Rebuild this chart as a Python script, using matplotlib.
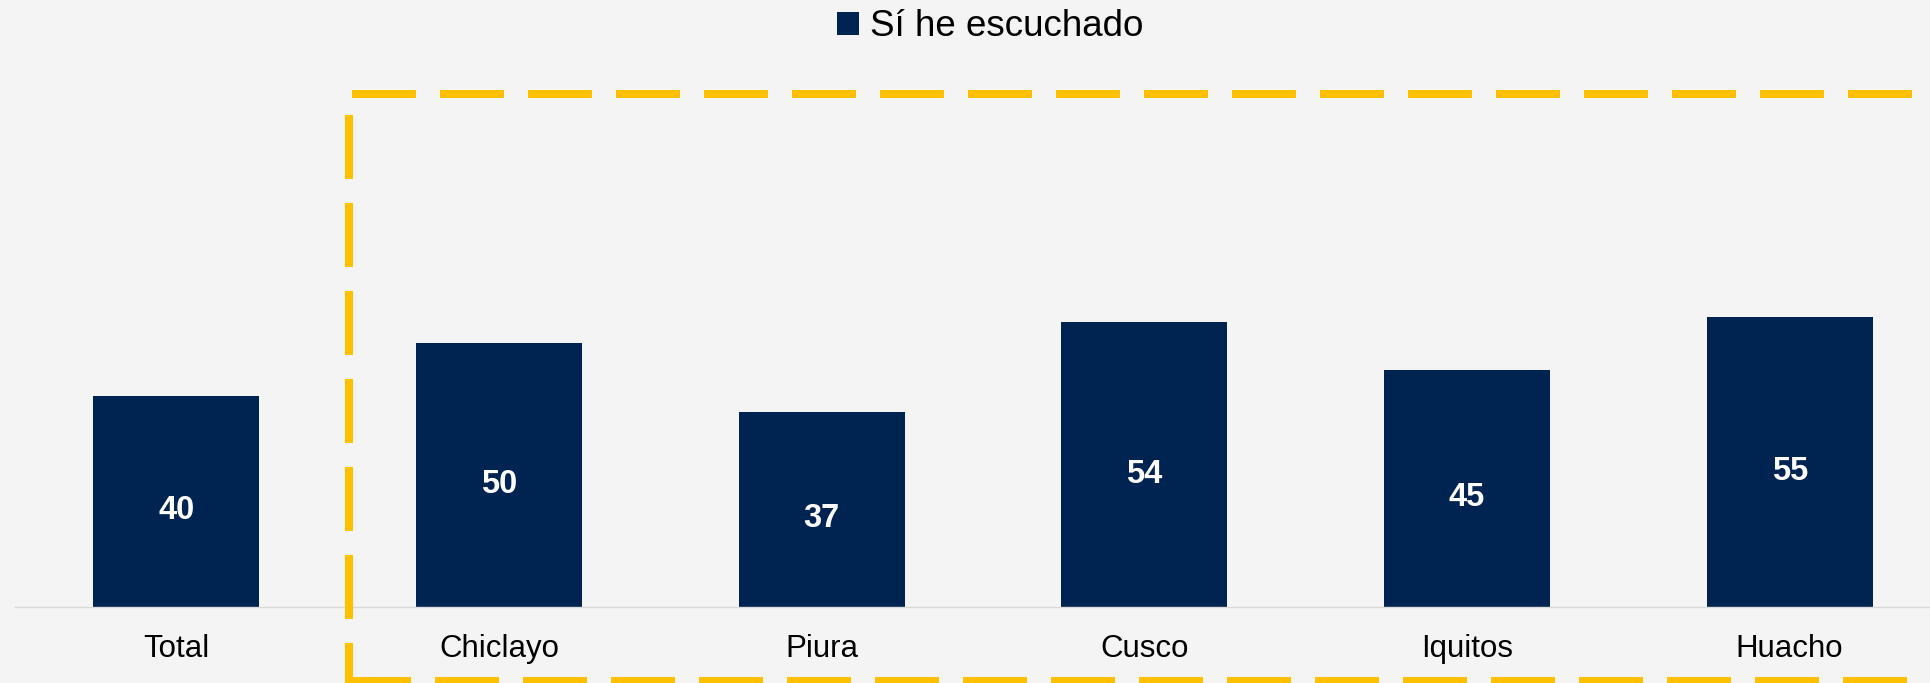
import matplotlib.pyplot as plt
from matplotlib.lines import Line2D

plt.rcParams['font.family'] = ['Liberation Sans', 'DejaVu Sans']

cities = ["Total", "Chiclayo", "Piura", "Cusco", "Iquitos", "Huacho"]
heard = [40, 50, 37, 54, 45, 55]
series_name = "Sí he escuchado"

navy = "#002452"
gold = "#FFC000"
bg = "#f4f4f4"

W, H = 1931, 683
fig = plt.figure(figsize=(W / 100, H / 100), dpi=100, facecolor=bg)

# axes placed in pixel terms: baseline at y=607, left edge at x=15
ax = fig.add_axes([15 / W, 76 / H, (W - 15) / W, 527.5 / H])
ax.set_facecolor("none")

x = list(range(len(cities)))
bars = ax.bar(x, heard, width=0.515, color=navy, label=series_name, zorder=2)

for xi, v in zip(x, heard):
    ax.text(xi, v / 2 - 1.8, f"{v}", ha="center", va="center",
            color="white", fontsize=23.5, fontweight="bold", zorder=3)

ax.set_xlim(-0.5, 5.438)
ax.set_ylim(0, 100)
ax.set_xticks(x)
ax.set_xticklabels(cities, fontsize=22.5, color="black")
ax.tick_params(axis="x", length=0, pad=19.5)
ax.set_yticks([])
for side in ["top", "right", "left"]:
    ax.spines[side].set_visible(False)
ax.spines["bottom"].set_color("#d9d9d9")
ax.spines["bottom"].set_linewidth(1.0)

fig.legend(handles=[bars], labels=[series_name], loc="center",
           bbox_to_anchor=(990 / W, (H - 27) / H), frameon=False,
           fontsize=26.5, handlelength=0.6, handleheight=0.6,
           handletextpad=0.3, borderpad=0)

# dashed highlight frame around the cities
def frame_line(xs, ys):
    ln = Line2D([v / W for v in xs], [(H - v) / H for v in ys],
                transform=fig.transFigure, color=gold, linewidth=5.76,
                linestyle=(0, (8, 3)), dash_capstyle="butt",
                solid_capstyle="butt", zorder=5)
    fig.add_artist(ln)

frame_line([352, W + 40], [94, 94])
frame_line([349, 349], [115, 685])
frame_line([347, W + 40], [681, 681])

fig.savefig("out.png", dpi=100, facecolor=bg)
